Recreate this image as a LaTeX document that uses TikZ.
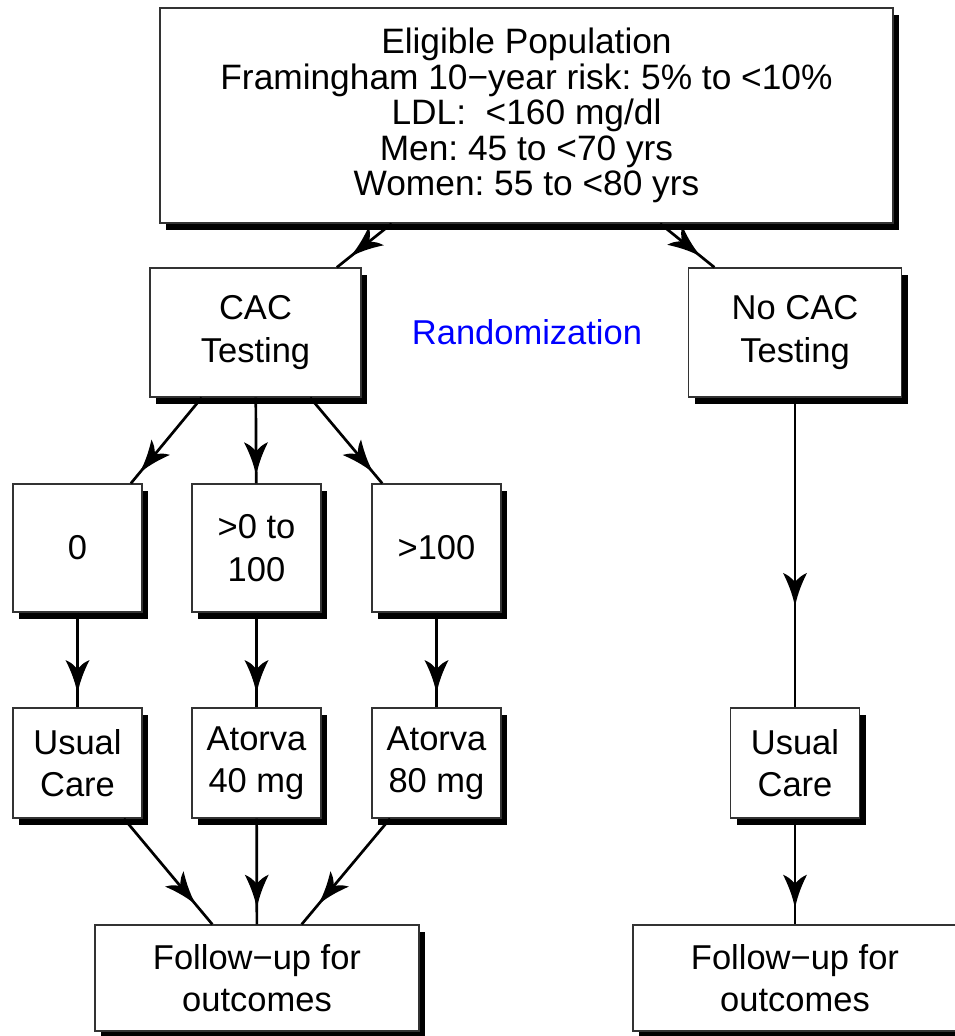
\documentclass[tikz,border=0pt]{standalone}
\usepackage{fontspec}
\setmainfont{Liberation Sans}
\frenchspacing
\usetikzlibrary{shadows,decorations.markings}
\tikzset{
  box/.style={draw=black!80, line width=1.3pt, fill=white, rectangle, inner sep=0pt,
    align=center, font=\fontsize{34.5}{42.5}\selectfont\frenchspacing,
    drop shadow={shadow xshift=6pt,shadow yshift=-6.5pt,fill=black,opacity=1}},
  bigbox/.style={box, font=\fontsize{35.3}{35.6}\selectfont\frenchspacing},
  conn/.style={line width=2.7pt, black},
  midarrow/.style={postaction={decorate,decoration={markings,
    mark=at position #1 with {\fill[black] (34pt,0pt) .. controls (20pt,2.5pt) and (8pt,8pt) .. (0pt,12pt)
      .. controls (3pt,6pt) .. (9pt,0pt) .. controls (3pt,-6pt) .. (0pt,-12pt)
      .. controls (8pt,-8pt) and (20pt,-2.5pt) .. (34pt,0pt) -- cycle;}}}}
}
\begin{document}
\begin{tikzpicture}[x=1pt,y=-1pt]
\path[use as bounding box] (0,0) rectangle (955,1036);
\clip (0,0) rectangle (955,1036);
\node[bigbox, minimum width=733pt, minimum height=215pt] (top) at (526.5,115.5)
  {Eligible Population\\Framingham 10−year risk: 5\% to <10\%\\LDL:\ \ <160 mg/dl\\Men: 45 to <70 yrs\\Women: 55 to <80 yrs};
\node[box, minimum width=211pt, minimum height=129pt] (cac) at (255.5,332.5) {CAC\\Testing};
\node[box, minimum width=213pt, minimum height=129pt] (nocac) at (795,332.5) {No CAC\\Testing};
\node[text=blue, font=\fontsize{34.5}{42}\selectfont] (rand) at (527,332) {Randomization};
\node[box, minimum width=129pt, minimum height=128pt] (zero) at (77.5,548) {0};
\node[box, minimum width=129pt, minimum height=128pt] (mid) at (256.5,548) {>0 to\\100};
\node[box, minimum width=129pt, minimum height=128pt] (hi) at (436.5,548) {>100};
\node[box, minimum width=129pt, minimum height=110pt] (usual) at (77.5,763) {Usual\\Care};
\node[box, minimum width=129pt, minimum height=110pt] (at40) at (256.5,763) {Atorva\\40 mg};
\node[box, minimum width=129pt, minimum height=110pt] (at80) at (436.5,763) {Atorva\\80 mg};
\node[box, minimum width=129pt, minimum height=110pt] (usualR) at (795,763) {Usual\\Care};
\node[box, minimum width=324pt, minimum height=106pt] (fuL) at (257,978) {Follow−up for\\outcomes};
\node[box, minimum width=324pt, minimum height=106pt] (fuR) at (795,978) {Follow−up for\\outcomes};
\draw[conn, midarrow=0.28] (top) -- (cac);
\draw[conn, midarrow=0.27] (top) -- (nocac);
\draw[conn, midarrow=0.58] (cac) -- (zero);
\draw[conn, midarrow=0.52] (cac) -- (mid);
\draw[conn, midarrow=0.58] (cac) -- (hi);
\draw[conn, midarrow=0.5] (zero) -- (usual);
\draw[conn, midarrow=0.5] (mid) -- (at40);
\draw[conn, midarrow=0.5] (hi) -- (at80);
\draw[conn, midarrow=0.566] (nocac) -- (usualR);
\draw[conn, midarrow=0.57] (usual) -- (fuL);
\draw[conn, midarrow=0.53] (at40) -- (fuL);
\draw[conn, midarrow=0.57] (at80) -- (fuL);
\draw[conn, midarrow=0.53] (usualR) -- (fuR);
\end{tikzpicture}
\end{document}
